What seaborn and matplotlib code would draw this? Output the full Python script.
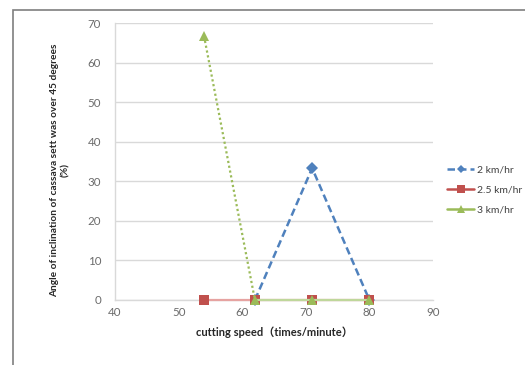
import matplotlib
matplotlib.use("Agg")
import matplotlib.pyplot as plt
import matplotlib.patches as mpatches
from matplotlib.lines import Line2D
import pandas as pd
import seaborn as sns

# Cutting speed (times/minute) and share of setts tilted over 45 degrees (%)
speed_2 = [62, 71, 80]
angle_2 = [0, 33.3, 0]
speed_25 = [54, 62, 71, 80]
angle_25 = [0, 0, 0, 0]
speed_3 = [54, 62, 71, 80]
angle_3 = [66.7, 0, 0, 0]

series_names = ["2 km/hr", "2.5 km/hr", "3 km/hr"]
x_ticks = [40, 50, 60, 70, 80, 90]
y_ticks = [0, 10, 20, 30, 40, 50, 60, 70]

sns.set_theme(style="white")
plt.rcParams["font.family"] = ["Lato", "Noto Sans CJK SC", "DejaVu Sans"]

colors = {"2 km/hr": "#4F81BD", "2.5 km/hr": "#C0504D", "3 km/hr": "#9BBB59"}
marker_sizes = {"2 km/hr": 6.5, "2.5 km/hr": 7, "3 km/hr": 7.5}

df = pd.concat([
    pd.DataFrame({"speed": speed_2, "angle": angle_2, "series": series_names[0]}),
    pd.DataFrame({"speed": speed_25, "angle": angle_25, "series": series_names[1]}),
    pd.DataFrame({"speed": speed_3, "angle": angle_3, "series": series_names[2]}),
], ignore_index=True)

fig = plt.figure(figsize=(5.25, 3.65), dpi=100)
fig.patch.set_facecolor("white")

# outer chart frame (runs off the right and bottom edges)
fig.patches.append(mpatches.Rectangle((13 / 525, -0.1), 1.2, 1 - 10 / 365 + 0.1,
                                      transform=fig.transFigure, fill=False,
                                      edgecolor="#7f7f7f", linewidth=1.2))

ax = fig.add_axes([115 / 525, 1 - 300 / 365, 318 / 525, 277 / 365])

# blue dashed series
d = df[df.series == "2 km/hr"]
sns.lineplot(data=d, x="speed", y="angle", ax=ax, color=colors["2 km/hr"],
             linestyle=(0, (3, 1.6)), linewidth=1.8, marker="D",
             markersize=marker_sizes["2 km/hr"], markeredgewidth=0,
             legend=False, zorder=3, clip_on=False)

# red solid series
d = df[df.series == "2.5 km/hr"]
sns.lineplot(data=d, x="speed", y="angle", ax=ax, color="#E6A3A1",
             linewidth=1.6, legend=False, zorder=4, clip_on=False)
ax.plot(d.speed, d.angle, linestyle="none", marker="s",
        markersize=marker_sizes["2.5 km/hr"], color=colors["2.5 km/hr"],
        markeredgewidth=0, zorder=4, clip_on=False)

# green series: dotted first segment, solid remainder
d = df[df.series == "3 km/hr"]
ax.plot(d.speed.iloc[:2], d.angle.iloc[:2], color=colors["3 km/hr"],
        linestyle=(0, (1, 1.2)), linewidth=1.6, zorder=5, clip_on=False)
sns.lineplot(x=d.speed.iloc[1:].values, y=d.angle.iloc[1:].values, ax=ax,
             color="#BFD79B", linewidth=1.6, legend=False, zorder=5, clip_on=False)
ax.plot(d.speed, d.angle, linestyle="none", marker="^",
        markersize=marker_sizes["3 km/hr"], color=colors["3 km/hr"],
        markeredgewidth=0, zorder=6, clip_on=False)

ax.set_xlim(40, 90)
ax.set_ylim(0, 70)
ax.set_xticks(x_ticks)
ax.set_yticks(y_ticks)
ax.set_xticklabels([str(v) for v in x_ticks])
ax.set_yticklabels([str(v) for v in y_ticks])
ax.tick_params(axis="both", length=0, labelsize=8.3, labelcolor="#6b6b6b")
ax.tick_params(axis="y", pad=10)
ax.tick_params(axis="x", pad=5)

ax.grid(axis="y", color="#d9d9d9", linewidth=1.0)
ax.set_axisbelow(True)
for side in ["top", "right"]:
    ax.spines[side].set_visible(False)
ax.spines["left"].set_color("#d9d9d9")
ax.spines["bottom"].set_color("#d9d9d9")
ax.spines["left"].set_linewidth(1.0)
ax.spines["bottom"].set_linewidth(1.0)

ax.set_xlabel("cutting speed（times/minute）", fontsize=8, fontweight="bold",
              color="#262626", labelpad=6)
ax.set_ylabel("")
fig.text(60 / 525, 1 - 170 / 365,
         "Angle of inclination of cassava sett was over 45 degrees\n(%)",
         rotation=90, ha="center", va="center", multialignment="center",
         fontsize=7.3, fontweight="bold", color="#262626", linespacing=1.3)

handles = [
    Line2D([], [], color=colors["2 km/hr"], linestyle=(0, (3, 1.6)), linewidth=1.8,
           marker="D", markersize=4.5, markeredgewidth=0),
    Line2D([], [], color=colors["2.5 km/hr"], linewidth=1.8, marker="s",
           markersize=5.5, markeredgewidth=0),
    Line2D([], [], color=colors["3 km/hr"], linewidth=1.8, marker="^",
           markersize=5.5, markeredgewidth=0),
]
fig.legend(handles, series_names, loc="center left",
           bbox_to_anchor=(438 / 525, 1 - 190 / 365), frameon=False,
           fontsize=7.5, handlelength=2.6, handletextpad=0.2, labelspacing=1.0,
           labelcolor="#404040")

fig.savefig("out.png", dpi=100, facecolor="white")
